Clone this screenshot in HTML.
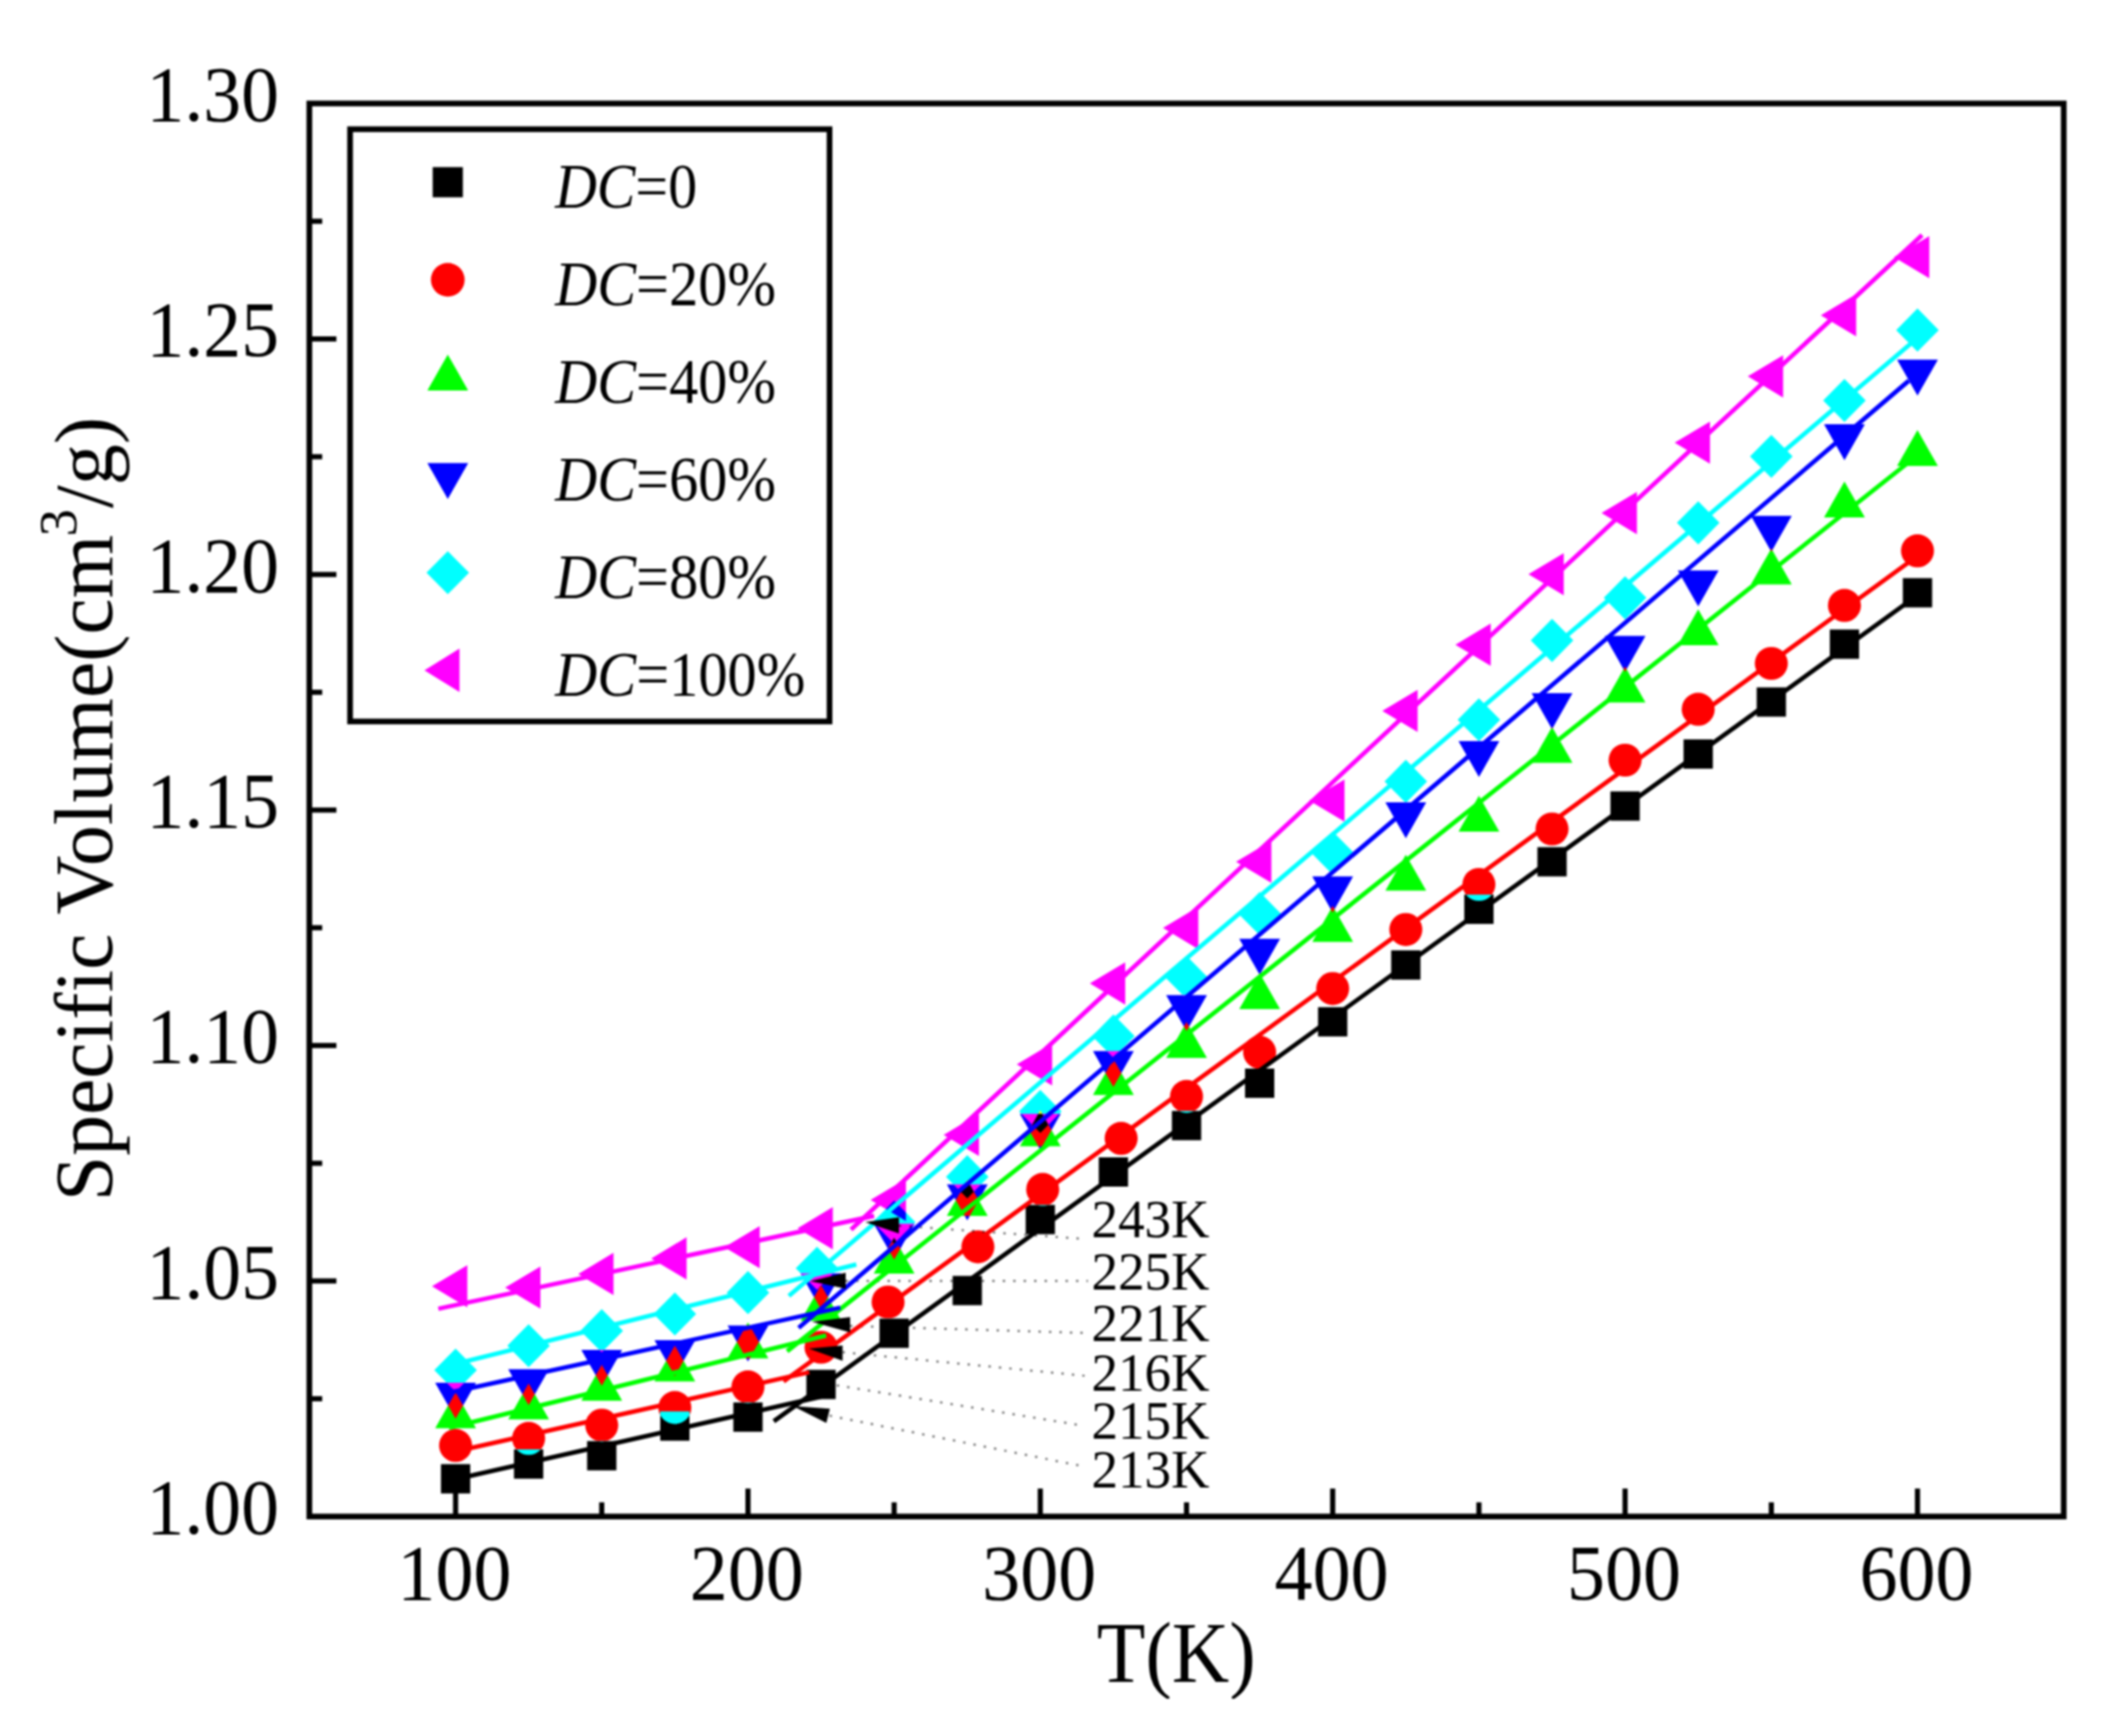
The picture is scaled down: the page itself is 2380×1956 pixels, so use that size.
<!DOCTYPE html>
<html lang="en"><head><meta charset="utf-8"><title>Specific Volume vs T</title>
<style>html,body{margin:0;padding:0;background:#fff}body{width:2380px;height:1956px;overflow:hidden}svg{display:block;filter:blur(1px)}text{font-family:"Liberation Serif","DejaVu Serif",serif;fill:#000}.m0{fill:#000000}.m1{fill:#ff0000}.m2{fill:#00ff00}.m3{fill:#0000ff}.m4{fill:#00ffff}.m5{fill:#ff00ff}@supports (mix-blend-mode:difference){.m0{fill:#ffffff;mix-blend-mode:difference}.m1{fill:#00ffff;mix-blend-mode:difference}.m2{fill:#ff00ff;mix-blend-mode:difference}.m3{fill:#ffff00;mix-blend-mode:difference}.m4{fill:#ff0000;mix-blend-mode:difference}.m5{fill:#00ff00;mix-blend-mode:difference}}</style></head><body>
<svg width="2380" height="1956" viewBox="0 0 2380 1956">
<rect width="2380" height="1956" fill="#fff"/>
<g style="isolation:isolate">
<rect x="360" y="130" width="1950" height="1570" fill="#fff"/>
<g class="m0">
<rect x="496.9" y="1649.7" width="33" height="33"/>
<rect x="579.2" y="1633.1" width="33" height="33"/>
<rect x="661.6" y="1623.7" width="33" height="33"/>
<rect x="744" y="1590.3" width="33" height="33"/>
<rect x="826.4" y="1580.2" width="33" height="33"/>
<rect x="908.7" y="1543.4" width="33" height="33"/>
<rect x="991.1" y="1485.7" width="33" height="33"/>
<rect x="1073.5" y="1437.6" width="33" height="33"/>
<rect x="1155.8" y="1357.6" width="33" height="33"/>
<rect x="1238.2" y="1304" width="33" height="33"/>
<rect x="1320.6" y="1251.7" width="33" height="33"/>
<rect x="1403" y="1204" width="33" height="33"/>
<rect x="1485.3" y="1134.8" width="33" height="33"/>
<rect x="1567.7" y="1070.8" width="33" height="33"/>
<rect x="1650.1" y="1008" width="33" height="33"/>
<rect x="1732.5" y="954.5" width="33" height="33"/>
<rect x="1814.8" y="891.7" width="33" height="33"/>
<rect x="1897.2" y="833.1" width="33" height="33"/>
<rect x="1979.6" y="774.5" width="33" height="33"/>
<rect x="2062" y="709.3" width="33" height="33"/>
<rect x="2144.3" y="651.4" width="33" height="33"/>
</g>
<g class="m1">
<circle cx="513.4" cy="1628.7" r="18.6"/>
<circle cx="595.7" cy="1620.7" r="18.6"/>
<circle cx="678.1" cy="1605.8" r="18.6"/>
<circle cx="760.5" cy="1585.9" r="18.6"/>
<circle cx="842.9" cy="1562.6" r="18.6"/>
<circle cx="925.2" cy="1518" r="18.6"/>
<circle cx="1000.8" cy="1467" r="18.6"/>
<circle cx="1102" cy="1404.8" r="18.6"/>
<circle cx="1175" cy="1340.2" r="18.6"/>
<circle cx="1263.4" cy="1282.7" r="18.6"/>
<circle cx="1337.1" cy="1235.4" r="18.6"/>
<circle cx="1419.5" cy="1185.7" r="18.6"/>
<circle cx="1501.8" cy="1113.8" r="18.6"/>
<circle cx="1584.2" cy="1047.3" r="18.6"/>
<circle cx="1666.6" cy="996.5" r="18.6"/>
<circle cx="1749" cy="934" r="18.6"/>
<circle cx="1831.3" cy="856.5" r="18.6"/>
<circle cx="1913.7" cy="799.2" r="18.6"/>
<circle cx="1996.1" cy="747.5" r="18.6"/>
<circle cx="2078.5" cy="682.2" r="18.6"/>
<circle cx="2160.8" cy="620.7" r="18.6"/>
</g>
<g class="m2">
<polygon points="513.4,1568.7 490.4,1609.2 536.4,1609.2"/>
<polygon points="595.7,1558.8 572.7,1599.2 618.7,1599.2"/>
<polygon points="678.1,1537.8 655.1,1578.3 701.1,1578.3"/>
<polygon points="760.5,1516 737.5,1556.5 783.5,1556.5"/>
<polygon points="842.9,1490 819.9,1530.5 865.9,1530.5"/>
<polygon points="925.2,1447.8 902.2,1488.2 948.2,1488.2"/>
<polygon points="1007.6,1394.5 984.6,1435 1030.6,1435"/>
<polygon points="1090,1329.5 1067,1370 1113,1370"/>
<polygon points="1172.3,1251 1149.3,1291.5 1195.3,1291.5"/>
<polygon points="1254.7,1193.2 1231.7,1233.8 1277.7,1233.8"/>
<polygon points="1337.1,1151.5 1314.1,1192 1360.1,1192"/>
<polygon points="1419.5,1096.5 1396.5,1137 1442.5,1137"/>
<polygon points="1501.8,1020.8 1478.8,1061.3 1524.8,1061.3"/>
<polygon points="1584.2,963 1561.2,1003.5 1607.2,1003.5"/>
<polygon points="1666.6,896.4 1643.6,936.9 1689.6,936.9"/>
<polygon points="1749,819 1726,859.5 1772,859.5"/>
<polygon points="1831.3,751.1 1808.3,791.6 1854.3,791.6"/>
<polygon points="1913.7,686.5 1890.7,727 1936.7,727"/>
<polygon points="1996.1,618.1 1973.1,658.6 2019.1,658.6"/>
<polygon points="2078.5,542.5 2055.5,583 2101.5,583"/>
<polygon points="2160.8,484.6 2137.8,525.1 2183.8,525.1"/>
</g>
<g class="m3">
<polygon points="513.4,1598.5 490.4,1558 536.4,1558"/>
<polygon points="595.7,1583.2 572.7,1542.8 618.7,1542.8"/>
<polygon points="678.1,1561.5 655.1,1521 701.1,1521"/>
<polygon points="760.5,1550.5 737.5,1510 783.5,1510"/>
<polygon points="842.9,1534 819.9,1493.5 865.9,1493.5"/>
<polygon points="925.2,1475.2 902.2,1434.8 948.2,1434.8"/>
<polygon points="1007.6,1419.2 984.6,1378.8 1030.6,1378.8"/>
<polygon points="1090,1375 1067,1334.5 1113,1334.5"/>
<polygon points="1172.3,1295.5 1149.3,1255 1195.3,1255"/>
<polygon points="1254.7,1224.8 1231.7,1184.3 1277.7,1184.3"/>
<polygon points="1337.1,1161.8 1314.1,1121.2 1360.1,1121.2"/>
<polygon points="1419.5,1098.2 1396.5,1057.8 1442.5,1057.8"/>
<polygon points="1501.8,1028.2 1478.8,987.6 1524.8,987.6"/>
<polygon points="1584.2,944.5 1561.2,904 1607.2,904"/>
<polygon points="1666.6,875.5 1643.6,835 1689.6,835"/>
<polygon points="1749,821.5 1726,781 1772,781"/>
<polygon points="1831.3,757.1 1808.3,716.6 1854.3,716.6"/>
<polygon points="1913.7,683.2 1890.7,642.8 1936.7,642.8"/>
<polygon points="1996.1,621.8 1973.1,581.2 2019.1,581.2"/>
<polygon points="2078.5,518.5 2055.5,478.1 2101.5,478.1"/>
<polygon points="2160.8,445.8 2137.8,405.2 2183.8,405.2"/>
</g>
<g class="m4">
<polygon points="513.4,1519.5 537.4,1543.8 513.4,1568.1 489.4,1543.8"/>
<polygon points="595.7,1492 619.7,1516.3 595.7,1540.6 571.7,1516.3"/>
<polygon points="678.1,1475.1 702.1,1499.4 678.1,1523.7 654.1,1499.4"/>
<polygon points="760.5,1456.2 784.5,1480.5 760.5,1504.8 736.5,1480.5"/>
<polygon points="842.9,1432.1 866.9,1456.4 842.9,1480.7 818.9,1456.4"/>
<polygon points="920.7,1404.7 944.7,1429 920.7,1453.3 896.7,1429"/>
<polygon points="1007.6,1352.7 1031.6,1377 1007.6,1401.3 983.6,1377"/>
<polygon points="1090,1301.6 1114,1325.9 1090,1350.2 1066,1325.9"/>
<polygon points="1172.3,1228 1196.3,1252.3 1172.3,1276.6 1148.3,1252.3"/>
<polygon points="1254.7,1143.1 1278.7,1167.4 1254.7,1191.7 1230.7,1167.4"/>
<polygon points="1337.1,1076.9 1361.1,1101.2 1337.1,1125.5 1313.1,1101.2"/>
<polygon points="1419.5,1005.1 1443.5,1029.4 1419.5,1053.7 1395.5,1029.4"/>
<polygon points="1501.8,936.8 1525.8,961.1 1501.8,985.4 1477.8,961.1"/>
<polygon points="1584.2,856.1 1608.2,880.4 1584.2,904.7 1560.2,880.4"/>
<polygon points="1666.6,786.7 1690.6,811 1666.6,835.3 1642.6,811"/>
<polygon points="1749,697.3 1773,721.6 1749,745.9 1725,721.6"/>
<polygon points="1831.3,649.3 1855.3,673.6 1831.3,697.9 1807.3,673.6"/>
<polygon points="1913.7,564.8 1937.7,589.1 1913.7,613.4 1889.7,589.1"/>
<polygon points="1996.1,489.9 2020.1,514.2 1996.1,538.5 1972.1,514.2"/>
<polygon points="2078.5,426.9 2102.5,451.2 2078.5,475.5 2054.5,451.2"/>
<polygon points="2160.8,347.6 2184.8,371.9 2160.8,396.2 2136.8,371.9"/>
</g>
<g class="m5">
<polygon points="486.8,1449.3 526.6,1425.5 526.6,1473.1"/>
<polygon points="569.2,1450.7 609,1426.9 609,1474.5"/>
<polygon points="651.6,1435.4 691.4,1411.6 691.4,1459.2"/>
<polygon points="733.9,1417.9 773.7,1394.1 773.7,1441.7"/>
<polygon points="816.3,1405.2 856.1,1381.4 856.1,1429"/>
<polygon points="898.7,1383.9 938.5,1360.1 938.5,1407.7"/>
<polygon points="981.1,1352 1020.9,1328.2 1020.9,1375.8"/>
<polygon points="1063.4,1278.7 1103.2,1254.9 1103.2,1302.5"/>
<polygon points="1145.8,1199.2 1185.6,1175.4 1185.6,1223"/>
<polygon points="1228.2,1108.1 1268,1084.3 1268,1131.9"/>
<polygon points="1310.6,1045.6 1350.4,1021.8 1350.4,1069.4"/>
<polygon points="1392.9,971 1432.7,947.2 1432.7,994.8"/>
<polygon points="1475.3,902 1515.1,878.2 1515.1,925.8"/>
<polygon points="1557.7,801 1597.5,777.2 1597.5,824.8"/>
<polygon points="1640.1,726.4 1679.9,702.6 1679.9,750.2"/>
<polygon points="1722.4,647 1762.2,623.2 1762.2,670.8"/>
<polygon points="1804.8,578.1 1844.6,554.3 1844.6,601.9"/>
<polygon points="1887.2,498.8 1927,475 1927,522.6"/>
<polygon points="1969.6,424.1 2009.4,400.3 2009.4,447.9"/>
<polygon points="2051.9,355.3 2091.7,331.5 2091.7,379.1"/>
<polygon points="2134.3,289.7 2174.1,265.9 2174.1,313.5"/>
</g>
</g>
<g fill="none" stroke="#000" stroke-opacity="0.55" stroke-width="2.5" stroke-dasharray="2.6 9.2">
<line x1="1013" y1="1381" x2="1222" y2="1396"/>
<line x1="953" y1="1443.3" x2="1226" y2="1443.3"/>
<line x1="958" y1="1494" x2="1226" y2="1502"/>
<line x1="949.5" y1="1523.6" x2="1224" y2="1550.3"/>
<line x1="943" y1="1560.9" x2="1216" y2="1605.6"/>
<line x1="935" y1="1595.1" x2="1216" y2="1651.2"/>
</g>
<g fill="none" stroke-width="5" stroke-linecap="butt">
<line x1="506" y1="1668.2" x2="925" y2="1573.7" stroke="#000000"/>
<line x1="872" y1="1601.4" x2="2160" y2="671.3" stroke="#000000"/>
<line x1="506" y1="1637" x2="912" y2="1546.1" stroke="#ff0000"/>
<line x1="883" y1="1556.5" x2="2160" y2="626.9" stroke="#ff0000"/>
<line x1="506" y1="1608.7" x2="931" y2="1504.8" stroke="#00ff00"/>
<line x1="887" y1="1522.5" x2="2160" y2="513.6" stroke="#00ff00"/>
<line x1="506" y1="1569.2" x2="947" y2="1473.4" stroke="#0000ff"/>
<line x1="900" y1="1496.1" x2="2151" y2="429" stroke="#0000ff"/>
<line x1="506" y1="1538.5" x2="965" y2="1424.8" stroke="#00ffff"/>
<line x1="889" y1="1460.1" x2="2153" y2="387.3" stroke="#00ffff"/>
<line x1="494" y1="1474.6" x2="985" y2="1370" stroke="#ff00ff"/>
<line x1="959" y1="1385.4" x2="2166" y2="264.8" stroke="#ff00ff"/>
</g>
<g fill="#000">
<polygon points="975,1377 1013,1371.5 1013,1389.8"/>
<polygon points="913,1443.4 953,1434 953,1452"/>
<polygon points="915,1489.2 958,1484 958,1501.3"/>
<polygon points="911.5,1519.4 949.5,1516 949.5,1533.2"/>
<polygon points="910,1556 941,1553 941,1568"/>
<polygon points="893.5,1584.3 935.2,1587.3 931.2,1603.2"/>
</g>
<g fill="none" stroke="#000" stroke-width="6.4" stroke-linecap="butt">
<rect x="348.6" y="116.6" width="1977" height="1592.1"/>
</g>
<g fill="none" stroke="#000" stroke-width="5.8">
<line x1="513.4" y1="1708.7" x2="513.4" y2="1677.2"/>
<line x1="842.9" y1="1708.7" x2="842.9" y2="1677.2"/>
<line x1="1172.3" y1="1708.7" x2="1172.3" y2="1677.2"/>
<line x1="1501.8" y1="1708.7" x2="1501.8" y2="1677.2"/>
<line x1="1831.3" y1="1708.7" x2="1831.3" y2="1677.2"/>
<line x1="2160.8" y1="1708.7" x2="2160.8" y2="1677.2"/>
<line x1="678.1" y1="1708.7" x2="678.1" y2="1692.7"/>
<line x1="1007.6" y1="1708.7" x2="1007.6" y2="1692.7"/>
<line x1="1337.1" y1="1708.7" x2="1337.1" y2="1692.7"/>
<line x1="1666.6" y1="1708.7" x2="1666.6" y2="1692.7"/>
<line x1="1996.1" y1="1708.7" x2="1996.1" y2="1692.7"/>
<line x1="348.6" y1="1443.3" x2="379.1" y2="1443.3"/>
<line x1="348.6" y1="1178" x2="379.1" y2="1178"/>
<line x1="348.6" y1="912.7" x2="379.1" y2="912.7"/>
<line x1="348.6" y1="647.3" x2="379.1" y2="647.3"/>
<line x1="348.6" y1="381.9" x2="379.1" y2="381.9"/>
<line x1="348.6" y1="1576" x2="363.1" y2="1576"/>
<line x1="348.6" y1="1310.7" x2="363.1" y2="1310.7"/>
<line x1="348.6" y1="1045.3" x2="363.1" y2="1045.3"/>
<line x1="348.6" y1="780" x2="363.1" y2="780"/>
<line x1="348.6" y1="514.6" x2="363.1" y2="514.6"/>
<line x1="348.6" y1="249.3" x2="363.1" y2="249.3"/>
</g>
<g font-size="89" text-anchor="end">
<text x="314.5" y="1727.9" textLength="149.5" lengthAdjust="spacingAndGlyphs">1.00</text>
<text x="314.5" y="1462.5" textLength="149.5" lengthAdjust="spacingAndGlyphs">1.05</text>
<text x="314.5" y="1197.2" textLength="149.5" lengthAdjust="spacingAndGlyphs">1.10</text>
<text x="314.5" y="931.9" textLength="149.5" lengthAdjust="spacingAndGlyphs">1.15</text>
<text x="314.5" y="666.5" textLength="149.5" lengthAdjust="spacingAndGlyphs">1.20</text>
<text x="314.5" y="401.1" textLength="149.5" lengthAdjust="spacingAndGlyphs">1.25</text>
<text x="314.5" y="135.8" textLength="149.5" lengthAdjust="spacingAndGlyphs">1.30</text>
</g>
<g font-size="89" text-anchor="middle">
<text x="512.1" y="1801.5" textLength="128.5" lengthAdjust="spacingAndGlyphs">100</text>
<text x="841.6" y="1801.5" textLength="128.5" lengthAdjust="spacingAndGlyphs">200</text>
<text x="1171.1" y="1801.5" textLength="128.5" lengthAdjust="spacingAndGlyphs">300</text>
<text x="1500.6" y="1801.5" textLength="128.5" lengthAdjust="spacingAndGlyphs">400</text>
<text x="1830.1" y="1801.5" textLength="128.5" lengthAdjust="spacingAndGlyphs">500</text>
<text x="2159.7" y="1801.5" textLength="128.5" lengthAdjust="spacingAndGlyphs">600</text>
</g>
<text x="1236" y="1895" font-size="98" textLength="179" lengthAdjust="spacingAndGlyphs">T(K)</text>
<g transform="translate(125.8 1353.5) rotate(-90)" font-size="93">
<text x="0" y="0" textLength="751" lengthAdjust="spacingAndGlyphs">Specific Volume(cm</text>
<text x="749" y="-40" font-size="62">3</text>
<text x="781" y="0" textLength="103" lengthAdjust="spacingAndGlyphs">/g)</text>
</g>
<g font-size="62">
<text x="1230" y="1394" textLength="133" lengthAdjust="spacingAndGlyphs">243K</text>
<text x="1230" y="1452.5" textLength="133" lengthAdjust="spacingAndGlyphs">225K</text>
<text x="1230" y="1511" textLength="133" lengthAdjust="spacingAndGlyphs">221K</text>
<text x="1230" y="1566.5" textLength="133" lengthAdjust="spacingAndGlyphs">216K</text>
<text x="1230" y="1621" textLength="133" lengthAdjust="spacingAndGlyphs">215K</text>
<text x="1230" y="1675.5" textLength="133" lengthAdjust="spacingAndGlyphs">213K</text>
</g>
<rect x="394.5" y="145.6" width="540.3" height="667.3" fill="#fff" stroke="#000" stroke-width="6.4"/>
<g fill="#000"><rect x="487.6" y="188.3" width="34" height="34"/></g>
<g fill="#ff0000"><circle cx="504.6" cy="315.3" r="19"/></g>
<g fill="#00ff00"><polygon points="504.6,399.4 481.6,439.9 527.6,439.9"/></g>
<g fill="#0000ff"><polygon points="504.6,562.3 481.6,521.8 527.6,521.8"/></g>
<g fill="#00ffff"><polygon points="504.6,621 528.6,645.3 504.6,669.6 480.6,645.3"/></g>
<g fill="#ff00ff"><polygon points="478.3,755.3 517.8,730.8 517.8,779.8"/></g>
<g font-size="72">
<text x="625.5" y="234.4" textLength="160" lengthAdjust="spacingAndGlyphs"><tspan font-style="italic">DC</tspan>=0</text>
<text x="625.5" y="344.4" textLength="249" lengthAdjust="spacingAndGlyphs"><tspan font-style="italic">DC</tspan>=20%</text>
<text x="625.5" y="454.4" textLength="249" lengthAdjust="spacingAndGlyphs"><tspan font-style="italic">DC</tspan>=40%</text>
<text x="625.5" y="564.4" textLength="249" lengthAdjust="spacingAndGlyphs"><tspan font-style="italic">DC</tspan>=60%</text>
<text x="625.5" y="674.4" textLength="249" lengthAdjust="spacingAndGlyphs"><tspan font-style="italic">DC</tspan>=80%</text>
<text x="625.5" y="784.4" textLength="282" lengthAdjust="spacingAndGlyphs"><tspan font-style="italic">DC</tspan>=100%</text>
</g>
<rect x="0" y="1914" width="2380" height="42" fill="#fff"/>
</svg></body></html>
